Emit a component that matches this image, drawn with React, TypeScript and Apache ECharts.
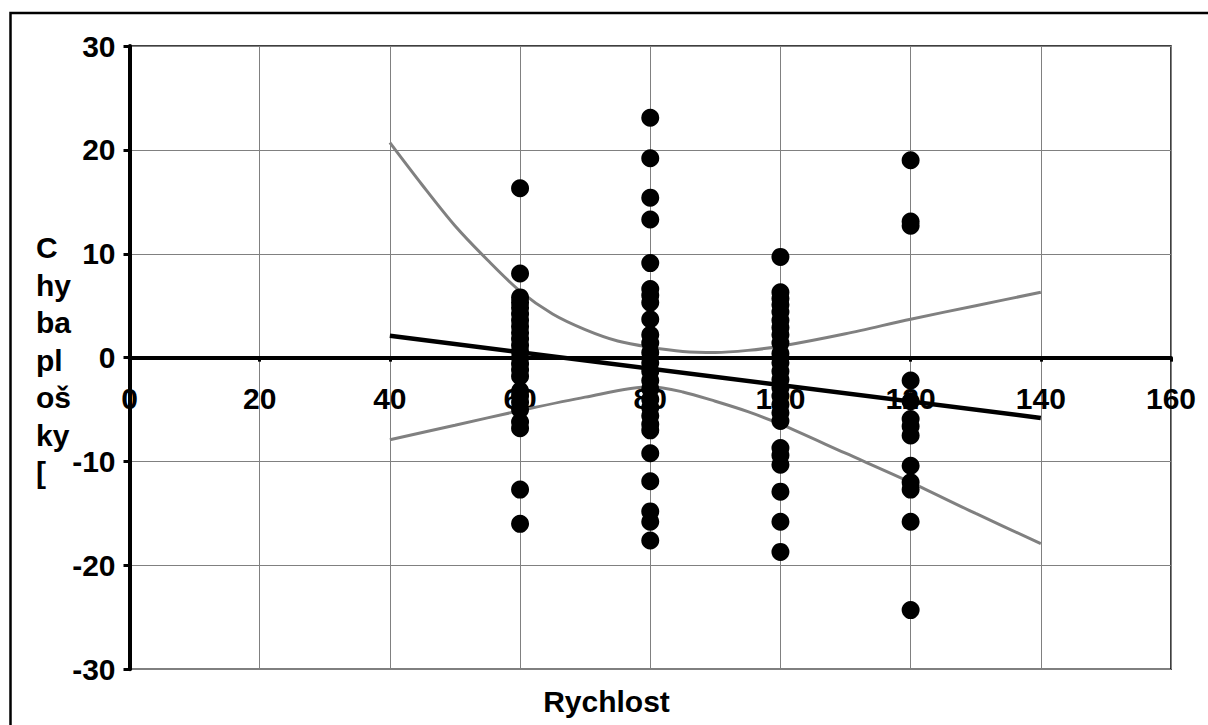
import React, { useEffect, useRef } from "react";
import * as echarts from "echarts";

const xTicks = { min: 0, max: 160, interval: 20 };
const yTicks = { min: -30, max: 30, interval: 10 };

const x60 = [16.3, 8.1, 5.8, 5.3, 4.8, 4.2, 3.6, 3.0, 2.4, 1.8, 1.2, 0.6, 0.0, -0.6, -1.2, -1.8, -3.2, -3.7, -4.3, -5.0, -6.2, -6.8, -12.7, -16.0];
const x80 = [23.1, 19.2, 15.4, 13.3, 9.1, 6.6, 6.0, 5.3, 3.7, 2.2, 1.4, 0.5, -0.5, -1.3, -2.2, -3.0, -4.0, -4.8, -5.6, -6.4, -7.0, -9.2, -11.9, -14.8, -15.8, -17.6];
const x100 = [9.7, 6.3, 5.7, 5.1, 4.4, 3.6, 2.9, 2.2, 1.4, 0.4, -0.5, -1.3, -2.1, -2.9, -3.7, -4.5, -5.3, -6.1, -8.7, -9.4, -10.3, -12.9, -15.8, -18.7];
const x120 = [19.0, 13.1, 12.7, -2.2, -4.2, -5.9, -6.6, -7.5, -10.4, -12.0, -12.7, -15.8, -24.3];

const regX = [40, 140];
const regY = [2.1, -5.8];

const upperX = [40, 45, 50, 55, 60, 65, 70, 75, 80, 85, 90, 95, 100, 110, 120, 130, 140];
const upperY = [20.7, 16.6, 12.7, 9.4, 6.4, 4.2, 2.7, 1.6, 1.0, 0.6, 0.5, 0.7, 1.1, 2.3, 3.7, 5.0, 6.3];

const lowerX = [40, 50, 60, 70, 80, 85, 90, 95, 100, 110, 120, 130, 140];
const lowerY = [-7.9, -6.5, -5.1, -3.8, -2.8, -3.3, -4.2, -5.2, -6.4, -9.2, -12.0, -15.0, -17.9];

const xTitle = "Rychlost";
const yTitleLines = ["C", "hy", "ba", "pl", "oš", "ky", "["];

const FONT = '"Liberation Sans", Arial, sans-serif';

const GRID_TOP = 46;
const GRID_H = 623.3;

export default function App() {
  const ref = useRef<HTMLDivElement>(null);
  useEffect(() => {
    if (!ref.current) return;
    const chart = echarts.init(ref.current, null, { renderer: "svg" });
    const pts: number[][] = [];
    x60.forEach((v) => pts.push([60, v]));
    x80.forEach((v) => pts.push([80, v]));
    x100.forEach((v) => pts.push([100, v]));
    x120.forEach((v) => pts.push([120, v]));

    // distance from bottom of grid to the y=0 line
    const zeroOffset = (GRID_H * (0 - yTicks.min)) / (yTicks.max - yTicks.min);

    chart.setOption({
      animation: false,
      backgroundColor: "#fff",
      grid: {
        left: 129.5,
        top: GRID_TOP,
        width: 1041.5,
        height: GRID_H,
        show: true,
        borderColor: "#000",
        borderWidth: 1.5,
        backgroundColor: "#fff",
      },
      xAxis: {
        type: "value",
        min: xTicks.min,
        max: xTicks.max,
        interval: xTicks.interval,
        offset: -zeroOffset,
        axisLine: { show: true, onZero: false, lineStyle: { color: "#000", width: 4 } },
        axisTick: { show: true, length: 4, lineStyle: { color: "#000", width: 3 } },
        axisLabel: {
          show: true,
          margin: 26,
          color: "#000",
          fontFamily: FONT,
          fontWeight: "bold",
          fontSize: 30,
        },
        splitLine: { show: true, lineStyle: { color: "#808080", width: 1 } },
      },
      yAxis: {
        type: "value",
        min: yTicks.min,
        max: yTicks.max,
        interval: yTicks.interval,
        axisLine: { show: true, onZero: false, lineStyle: { color: "#000", width: 4 } },
        axisTick: { show: true, length: 6, lineStyle: { color: "#000", width: 3 } },
        axisLabel: {
          show: true,
          margin: 14,
          color: "#000",
          fontFamily: FONT,
          fontWeight: "bold",
          fontSize: 30,
          padding: [8, 0, 0, 0],
        },
        splitLine: { show: true, lineStyle: { color: "#808080", width: 1 } },
      },
      graphic: [
        {
          type: "rect",
          shape: { x: 10.5, y: 13, width: 1400, height: 1000 },
          style: { fill: "none", stroke: "#000", lineWidth: 2.5 },
          silent: true,
          z: 100,
        },
        {
          type: "text",
          x: 36,
          y: 229,
          style: {
            text: yTitleLines.join("\n"),
            fill: "#000",
            font: `bold 30px ${FONT}`,
            lineHeight: 37.5,
            align: "left",
            verticalAlign: "top",
          },
        },
        {
          type: "text",
          x: 606.5,
          y: 701.5,
          style: {
            text: xTitle,
            fill: "#000",
            font: `bold 30px ${FONT}`,
            align: "center",
            verticalAlign: "middle",
          },
        },
      ],
      series: [
        {
          type: "line",
          data: upperX.map((x, i) => [x, upperY[i]]),
          showSymbol: false,
          symbol: "none",
          smooth: 0.3,
          lineStyle: { color: "#808080", width: 3 },
          z: 3,
        },
        {
          type: "line",
          data: lowerX.map((x, i) => [x, lowerY[i]]),
          showSymbol: false,
          symbol: "none",
          smooth: 0.3,
          lineStyle: { color: "#808080", width: 3 },
          z: 3,
        },
        {
          type: "scatter",
          data: pts,
          symbol: "circle",
          symbolSize: 18,
          itemStyle: { color: "#000", opacity: 1 },
          z: 4,
        },
        {
          type: "line",
          data: regX.map((x, i) => [x, regY[i]]),
          showSymbol: false,
          symbol: "none",
          lineStyle: { color: "#000", width: 4.5 },
          z: 5,
        },
      ],
    });
    return () => chart.dispose();
  }, []);
  return (
    <div
      ref={ref}
      style={{ position: "fixed", left: 0, top: 0, width: 1208, height: 725 }}
    />
  );
}
